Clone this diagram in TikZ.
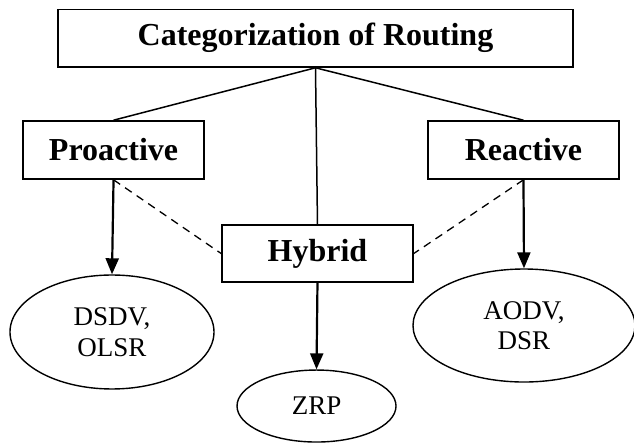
\documentclass[tikz,border=0pt]{standalone}
\usepackage{fontspec}
\setmainfont{Liberation Serif}
\usetikzlibrary{shapes.geometric}
\usetikzlibrary{arrows.meta}

\begin{document}
\begin{tikzpicture}[
	catbox/.style={draw,line width=.8pt,inner sep=0pt,font=\fontsize{16}{19}\selectfont\bfseries},
	protobox/.style={draw,ellipse,line width=.7pt,inner sep=0pt,align=center,font=\fontsize{13.5}{15.3}\selectfont},
	tree/.style={line width=.75pt},
	down/.style={-{Triangle[width=6.5pt,length=8pt]},line width=1.1pt},
	mixed/.style={line width=.65pt,dash pattern=on 4pt off 3pt}]
	\useasboundingbox (0,0) rectangle (11.141,7.785);
	
	%categories
	\node[catbox,minimum width=9.05cm,minimum height=1.01cm] (cat) at (5.544,7.113) {Categorization of Routing};
	\node[catbox,minimum width=3.181cm,minimum height=1.019cm] (pro) at (1.995,5.149) {Proactive};
	\node[catbox,minimum width=3.356cm,minimum height=1.019cm] (rea) at (9.199,5.149) {Reactive};
	\node[catbox,minimum width=3.356cm,minimum height=1.002cm] (hyb) at (5.579,3.330) {Hybrid};
	
	%protocols
	\node[protobox,minimum width=3.585cm,minimum height=2.003cm] (dsdv) at (1.968,1.951) {DSDV,\\OLSR};
	\node[protobox,minimum width=3.901cm,minimum height=1.986cm] (aodv) at (9.208,2.065) {AODV,\\DSR};
	\node[protobox,minimum width=2.794cm,minimum height=1.265cm] (zrp)  at (5.562,0.650) {ZRP};
	
	%tree lines
	\draw[tree] (cat.south)--(pro.north);
	\draw[tree] (cat.south)--(rea.north);
	\draw[tree] (cat.south)--(hyb.north);
	
	%hybrid links
	\draw[mixed] (pro.south)--(hyb.west);
	\draw[mixed] (rea.south)--(hyb.east);
	
	%examples
	\draw[down] (pro.south)--(dsdv.north);
	\draw[down] (rea.south)--(aodv.north);
	\draw[down] (hyb.south)--(zrp.north);
\end{tikzpicture}
\end{document}
